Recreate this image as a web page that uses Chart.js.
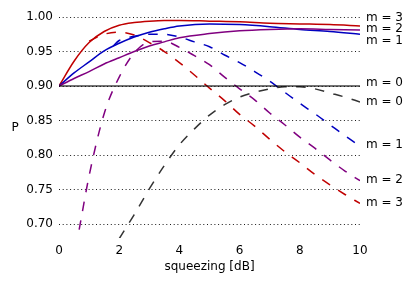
<!DOCTYPE html>
<html>
<head>
<meta charset="utf-8">
<script src="https://cdn.jsdelivr.net/npm/chart.js@4/dist/chart.umd.min.js"></script>
<style>
  html, body { margin: 0; padding: 0; background: #ffffff; }
  canvas { display: block; }
</style>
</head>
<body>
<canvas id="squeezeChart" width="416" height="286"></canvas>
<script>
// data
const xSolid = [0, 0.5, 1, 1.5, 2, 2.5, 3, 3.5, 4, 5, 6, 7, 8, 9, 10];
const solidM0 = [0.900, 0.900, 0.900, 0.900, 0.900, 0.900, 0.900, 0.900, 0.900, 0.900, 0.900, 0.900, 0.900, 0.900, 0.900];
const solidM1 = [0.900, 0.919, 0.935, 0.951, 0.962, 0.971, 0.978, 0.983, 0.987, 0.990, 0.989, 0.986, 0.982, 0.979, 0.975];
const solidM2 = [0.900, 0.911, 0.921, 0.932, 0.941, 0.950, 0.958, 0.964, 0.970, 0.976, 0.980, 0.982, 0.983, 0.982, 0.981];
const solidM3 = [0.900, 0.936, 0.963, 0.979, 0.988, 0.992, 0.994, 0.995, 0.995, 0.994, 0.993, 0.991, 0.990, 0.989, 0.987];

const xDashM0 = [2, 2.5, 3, 3.5, 4, 4.5, 5, 5.5, 6, 6.5, 7, 7.5, 8, 8.5, 9, 9.5, 10];
const dashM0 = [0.679, 0.714, 0.751, 0.785, 0.815, 0.838, 0.858, 0.873, 0.884, 0.891, 0.896, 0.899, 0.899, 0.896, 0.890, 0.884, 0.877];
const xDashM1 = [1.8, 2, 2.5, 3, 3.5, 4, 4.5, 5, 5.5, 6, 6.5, 7, 7.5, 8, 8.5, 9, 9.5, 10];
const dashM1 = [0.958, 0.966, 0.972, 0.975, 0.975, 0.971, 0.964, 0.957, 0.945, 0.934, 0.921, 0.907, 0.891, 0.875, 0.860, 0.844, 0.828, 0.813];
const xDashM2 = [0.67, 1, 1.5, 2, 2.5, 3, 3.5, 4, 4.5, 5, 5.5, 6, 6.5, 7, 7.5, 8, 8.5, 9, 9.5, 10];
const dashM2 = [0.692, 0.770, 0.860, 0.913, 0.948, 0.964, 0.965, 0.956, 0.944, 0.931, 0.913, 0.896, 0.880, 0.861, 0.844, 0.826, 0.810, 0.793, 0.777, 0.763];
const xDashM3 = [1, 1.5, 2, 2.5, 3, 3.5, 4, 4.5, 5, 5.5, 6, 6.5, 7, 7.5, 8, 8.5, 9, 9.5, 10];
const dashM3 = [0.965, 0.975, 0.978, 0.974, 0.963, 0.950, 0.934, 0.916, 0.897, 0.879, 0.859, 0.842, 0.823, 0.805, 0.789, 0.772, 0.757, 0.743, 0.730];

// labels at the right edge (text and P value where they sit)
const endLabels = ['m = 3', 'm = 2', 'm = 1', 'm = 0', 'm = 0', 'm = 1', 'm = 2', 'm = 3'];
const endLabelY = [0.9993, 0.9824, 0.965, 0.904, 0.877, 0.815, 0.764, 0.731];

const xTicks = [0, 2, 4, 6, 8, 10];
const yTicks = [0.70, 0.75, 0.80, 0.85, 0.90, 0.95, 1.00];

const FONT = 'DejaVu Sans';
const RED = '#c00000';
const BLUE = '#0000c0';
const PURPLE = '#800080';

function pts(xs, ys) {
    return xs.map((x, i) => ({ x: x, y: ys[i] }));
}

function line(data, color, dashed, width) {
    return {
        data: data,
        borderColor: color,
        borderWidth: width || 1.5,
        borderDash: dashed ? [9.5, 9.5] : [],
        pointRadius: 0,
        fill: false,
        cubicInterpolationMode: 'monotone'
    };
}

// text on the right and upright "P"
const labelPlugin = {
    id: 'sideLabels',
    afterDraw(chart) {
        const c = chart.ctx;
        const area = chart.chartArea;
        const ys = chart.scales.y;
        c.save();
        c.fillStyle = '#000000';
        c.font = '12px "' + FONT + '"';
        c.textBaseline = 'middle';
        c.textAlign = 'left';
        endLabels.forEach((t, i) => {
            c.fillText(t, area.right + 6, ys.getPixelForValue(endLabelY[i]));
        });
        c.textAlign = 'center';
        c.fillText('P', area.left - 44, (area.top + area.bottom) / 2);
        c.restore();
    }
};

const ctx = document.getElementById('squeezeChart').getContext('2d');

new Chart(ctx, {
    type: 'line',
    data: {
        datasets: [
            line(pts(xSolid, solidM0), 'rgba(0,0,0,0.55)', false, 2),
            line(pts(xDashM0, dashM0), '#333333', true),
            line(pts(xDashM2, dashM2), PURPLE, true),
            line(pts(xDashM1, dashM1), BLUE, true),
            line(pts(xDashM3, dashM3), RED, true),
            line(pts(xSolid, solidM2), PURPLE, false),
            line(pts(xSolid, solidM1), BLUE, false),
            line(pts(xSolid, solidM3), RED, false)
        ]
    },
    options: {
        responsive: false,
        animation: false,
        layout: { padding: { left: 0, right: 56, top: 17, bottom: 0 } },
        plugins: {
            legend: { display: false },
            tooltip: { enabled: false }
        },
        scales: {
            x: {
                type: 'linear',
                min: 0,
                max: 10,
                border: { display: false },
                grid: { display: false, drawTicks: false },
                afterBuildTicks: (axis) => { axis.ticks = xTicks.map(v => ({ value: v })); },
                afterFit: (axis) => { axis.height = 48; },
                ticks: {
                    padding: 6,
                    color: '#000000',
                    font: { family: FONT, size: 12 },
                    callback: (v) => String(v)
                },
                title: {
                    display: true,
                    text: 'squeezing [dB]',
                    color: '#000000',
                    font: { family: FONT, size: 12 },
                    padding: { top: 0, bottom: 12 }
                }
            },
            y: {
                type: 'linear',
                min: 0.68,
                max: 1.0,
                border: { display: false, dash: [1, 2.7] },
                grid: {
                    drawTicks: false,
                    color: 'rgba(0,0,0,0.9)',
                    lineWidth: 1
                },
                afterBuildTicks: (axis) => { axis.ticks = yTicks.map(v => ({ value: v })); },
                afterFit: (axis) => { axis.width = 59; },
                ticks: {
                    padding: 6,
                    color: '#000000',
                    font: { family: FONT, size: 12 },
                    callback: (v) => Number(v).toFixed(2)
                }
            }
        }
    },
    plugins: [labelPlugin]
});
</script>
</body>
</html>
